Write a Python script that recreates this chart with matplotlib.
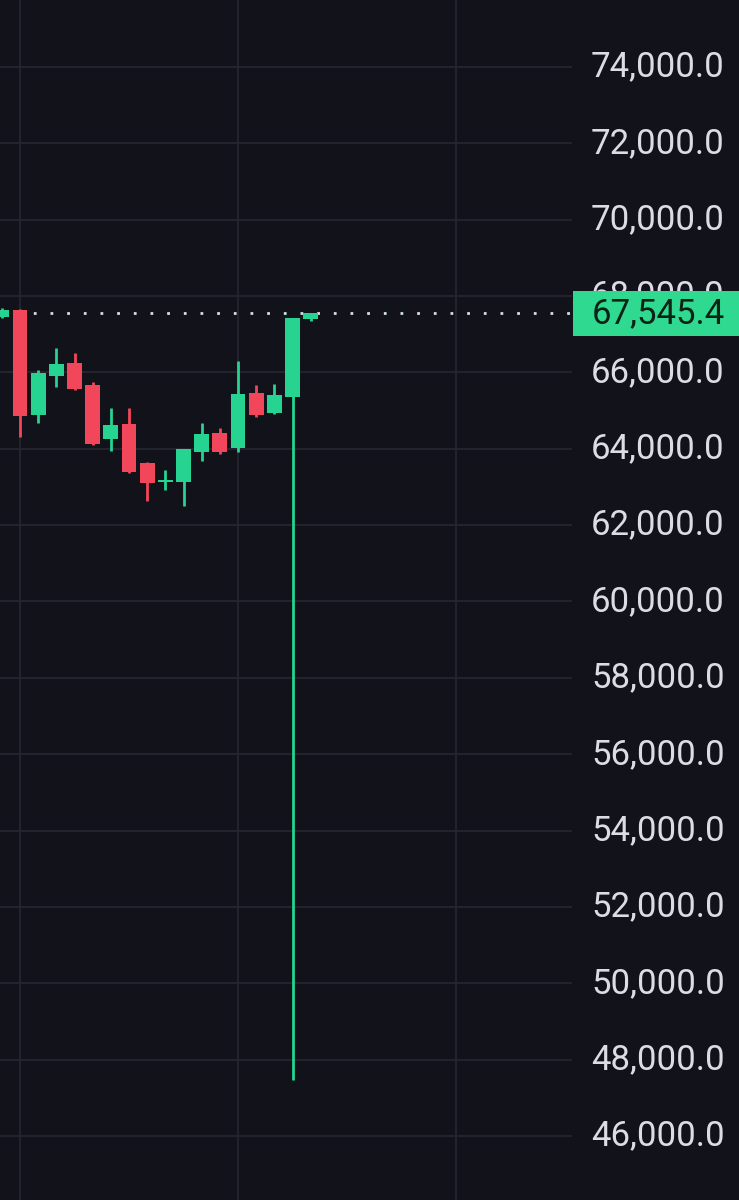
import numpy as np
import matplotlib.pyplot as plt
from matplotlib.patches import Rectangle
from matplotlib.transforms import blended_transform_factory

# OHLC свечи (индекс 0 обрезан слева)
idx = list(range(18))
opens = [67450, 67630, 64876, 65900, 66241, 65664, 64246, 64640, 63616, 63140,
         63117, 63905, 64404, 64010, 65454, 64937, 65349, 67390]
highs = [67680, 67660, 66060, 66635, 66504, 65742, 65060, 65060, 63660, 63432,
         63984, 64674, 64535, 66302, 65664, 65690, 67422, 67560]
lows = [67420, 64300, 64666, 65610, 65546, 64090, 63940, 63360, 62626, 62910,
        62488, 63676, 63852, 63913, 64824, 64900, 47468, 67340]
closes = [67640, 64850, 65987, 66215, 65559, 64115, 64614, 63380, 63091, 63165,
          63984, 64378, 63905, 65428, 64876, 65401, 67422, 67545.4]
last_price = 67545.4
y_ticks = list(range(46000, 76000, 2000))
x_grid = [1, 13, 25]

bg = '#12121b'
up_col = '#27d391'
down_col = '#f2475a'
grid_col = '#25252f'

fig = plt.figure(figsize=(7.39, 12), dpi=100, facecolor=bg)
ax = fig.add_axes([0, 0, 572 / 739, 1])
ax.set_facecolor(bg)

o = np.array(opens, dtype=float)
c = np.array(closes, dtype=float)
colors = [up_col if cc >= oo else down_col for oo, cc in zip(o, c)]
bottom = np.minimum(o, c)
height = np.maximum(np.abs(c - o), 40)

ax.vlines(idx, lows, highs, colors=colors, linewidth=2, zorder=3)
ax.bar(idx, height, bottom=bottom, width=0.82, color=colors, zorder=4)

# линия текущей цены
ax.axhline(last_price, color='#cfe3dc', linestyle=(0, (1, 5)), linewidth=2, zorder=2)

ax.set_xlim(-0.101, 31.38)
ax.set_ylim(44325, 75753)

ax.set_yticks(y_ticks)
ax.set_yticklabels([f'{v:,.1f}' for v in y_ticks])
ax.set_xticks(x_grid)
ax.tick_params(axis='x', length=0, labelbottom=False)
ax.yaxis.tick_right()
ax.tick_params(axis='y', length=0, pad=110, labelsize=25, labelcolor='#dcdce2')
for lab in ax.get_yticklabels():
    lab.set_ha('right')
    lab.set_va('center')
    lab.set_fontfamily('Roboto')
ax.grid(True, color=grid_col, linewidth=1.3)
for s in ax.spines.values():
    s.set_visible(False)

# метка цены
trans = blended_transform_factory(ax.transAxes, ax.transData)
ax.add_patch(Rectangle((1.002, last_price - 590), 0.3, 1180, transform=trans,
                       facecolor='#2fd98f', edgecolor='none', clip_on=False, zorder=5))
ax.text(1 + 153 / 572, last_price, f'{last_price:,.1f}', transform=trans,
        ha='right', va='center', fontsize=25, family='Roboto',
        color='#0c2216', zorder=6)

fig.savefig('out.png', dpi=100, facecolor=bg)
